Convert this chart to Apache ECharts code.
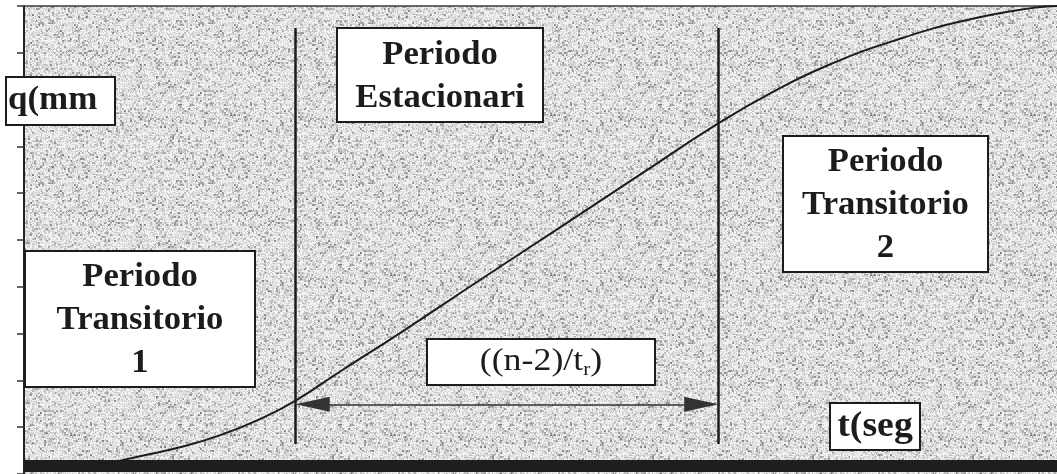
<!DOCTYPE html>
<html>
<head>
<meta charset="utf-8">
<script src="https://cdn.jsdelivr.net/npm/echarts@6/dist/echarts.min.js"></script>
<style>
  html, body { margin: 0; padding: 0; background: #ffffff; }
  #chart { width: 1057px; height: 474px; }
</style>
</head>
<body>
<div id="chart"></div>
<script>
// Sampled S-curve of q against t (t in % of the run, q in axis units)
const tValues = [7.4, 11.2, 15.1, 19.0, 22.8, 26.3, 30.6, 36.4, 44.1, 51.9, 59.6, 67.2, 72.2, 78.0, 84.8, 91.3, 97.7, 100];
const qValues = [0.19, 0.38, 0.57, 0.83, 1.17, 1.57, 2.19, 3.01, 4.14, 5.27, 6.39, 7.49, 8.13, 8.75, 9.30, 9.70, 9.96, 10.0];

// Boundaries between the transient and steady periods (t)
const phaseBounds = [26.3, 67.2];
// q range covered by the boundary lines, and q level of the span arrow
const boundSpan = [0.64, 9.53];
const arrowLevel = 1.49;

// Axis range for q and its tick step
const qRange = [0, 10];
const qStep = 1;

// Texts
const axisLabelQ = 'q(mm';
const axisLabelT = 't(seg';
const phaseLabels = ['Periodo\nTransitorio\n1', 'Periodo\nEstacionari', 'Periodo\nTransitorio\n2'];
const spanLabel = '((n-2)/t{sub|r})';

const serif = "'Liberation Serif', 'DejaVu Serif', serif";
const ink = '#1c1c1c';
const arrowHead = [15, 34];

// Halftone-like gray grain used as the plot fill
function grainPattern(size) {
  const c = document.createElement('canvas');
  c.width = c.height = size;
  const ctx = c.getContext('2d');
  const img = ctx.createImageData(size, size);
  let s = 20240611 >>> 0;
  const next = () => {
    s = (Math.imul(s, 1103515245) + 12345) >>> 0;
    return (s >>> 8) / 16777216;
  };
  const half = size / 2;
  const coarse = new Float32Array(half * half);
  for (let i = 0; i < coarse.length; i++) coarse[i] = next();
  for (let y = 0; y < size; y++) {
    for (let x = 0; x < size; x++) {
      const i = y * size + x;
      const fine = next();
      const blob = coarse[(y >> 1) * half + (x >> 1)];
      const v = Math.round(249 - 60 * fine * fine - 85 * Math.pow(blob, 6));
      img.data[i * 4] = v;
      img.data[i * 4 + 1] = v;
      img.data[i * 4 + 2] = v;
      img.data[i * 4 + 3] = 255;
    }
  }
  ctx.putImageData(img, 0, 0);
  return c;
}

function textBox(x, y, w, h, text, opts) {
  const o = opts || {};
  const style = {
    text: text,
    fontFamily: serif,
    fontSize: o.fontSize || 33,
    fontWeight: o.weight || 'bold',
    fill: ink,
    lineHeight: o.lineHeight || 43,
    textAlign: o.align || 'center',
    align: o.align || 'center',
    textVerticalAlign: 'middle',
    verticalAlign: 'middle'
  };
  if (o.rich) style.rich = o.rich;
  return {
    type: 'group',
    z: 100,
    children: [
      {
        type: 'rect',
        z: 100,
        shape: { x: x, y: y, width: w, height: h },
        style: { fill: '#ffffff', stroke: ink, lineWidth: 2 }
      },
      {
        type: 'text',
        z: 101,
        x: o.tx != null ? o.tx : x + w / 2,
        y: o.ty != null ? o.ty : y + h / 2,
        scaleX: o.scaleX || 1.05,
        style: style
      }
    ]
  };
}

const chart = echarts.init(document.getElementById('chart'), null, { renderer: 'canvas' });

// Arrow tips sit on the boundary lines; convert the head length to t units
const tPerPx = 100 / (1057 - 24);
const headT = (arrowHead[1] / 2) * tPerPx;

chart.setOption({
  animation: false,
  backgroundColor: '#ffffff',
  grid: {
    left: 24, right: 0, top: 6, bottom: -3,
    show: true,
    borderWidth: 0,
    backgroundColor: { image: grainPattern(160), repeat: 'repeat' }
  },
  xAxis: [
    {
      type: 'value', min: 0, max: 100,
      position: 'bottom', offset: -8,
      axisLine: { show: true, lineStyle: { color: '#1e1e1e', width: 12, cap: 'butt' } },
      axisTick: { show: false }, axisLabel: { show: false }, splitLine: { show: false }
    },
    {
      type: 'value', min: 0, max: 100,
      position: 'top',
      axisLine: { show: true, lineStyle: { color: '#3a3a3a', width: 1.5 } },
      axisTick: { show: false }, axisLabel: { show: false }, splitLine: { show: false }
    }
  ],
  yAxis: {
    type: 'value', min: qRange[0], max: qRange[1], interval: qStep,
    axisLine: { show: true, lineStyle: { color: '#222', width: 2 } },
    axisTick: { show: true, inside: false, length: 7, lineStyle: { color: '#333', width: 1.5 } },
    axisLabel: { show: false },
    splitLine: { show: false }
  },
  series: [
    {
      type: 'line',
      data: tValues.map((t, i) => [t, qValues[i]]),
      smooth: 0.5,
      showSymbol: false,
      lineStyle: { color: ink, width: 2 },
      markLine: {
        silent: true,
        animation: false,
        symbol: 'none',
        label: { show: false },
        lineStyle: { color: ink, width: 2.5, type: 'solid' },
        data: [
          [{ coord: [phaseBounds[0], boundSpan[0]] }, { coord: [phaseBounds[0], boundSpan[1]] }],
          [{ coord: [phaseBounds[1], boundSpan[0]] }, { coord: [phaseBounds[1], boundSpan[1]] }],
          [
            { coord: [phaseBounds[0] + headT, arrowLevel], symbol: 'triangle', symbolSize: arrowHead,
              lineStyle: { color: '#333', width: 1.6, type: 'solid' } },
            { coord: [phaseBounds[1] - headT, arrowLevel], symbol: 'triangle', symbolSize: arrowHead }
          ]
        ]
      }
    }
  ],
  graphic: [
    textBox(6, 77, 109, 48, axisLabelQ, { align: 'left', tx: 8, ty: 100, scaleX: 1.06 }),
    textBox(337, 28, 206, 94, phaseLabels[1], { ty: 77 }),
    textBox(25, 251, 230, 136, phaseLabels[0], { ty: 320 }),
    textBox(783, 136, 205, 136, phaseLabels[2], { ty: 205 }),
    textBox(427, 339, 228, 46, spanLabel, {
      weight: 'normal', fontSize: 32, scaleX: 1.12, lineHeight: 36, ty: 362,
      rich: { sub: { fontFamily: serif, fontSize: 19, fill: ink, verticalAlign: 'bottom', lineHeight: 16 } }
    }),
    textBox(830, 403, 90, 47, axisLabelT, { fontSize: 36, ty: 427 })
  ]
});
</script>
</body>
</html>
